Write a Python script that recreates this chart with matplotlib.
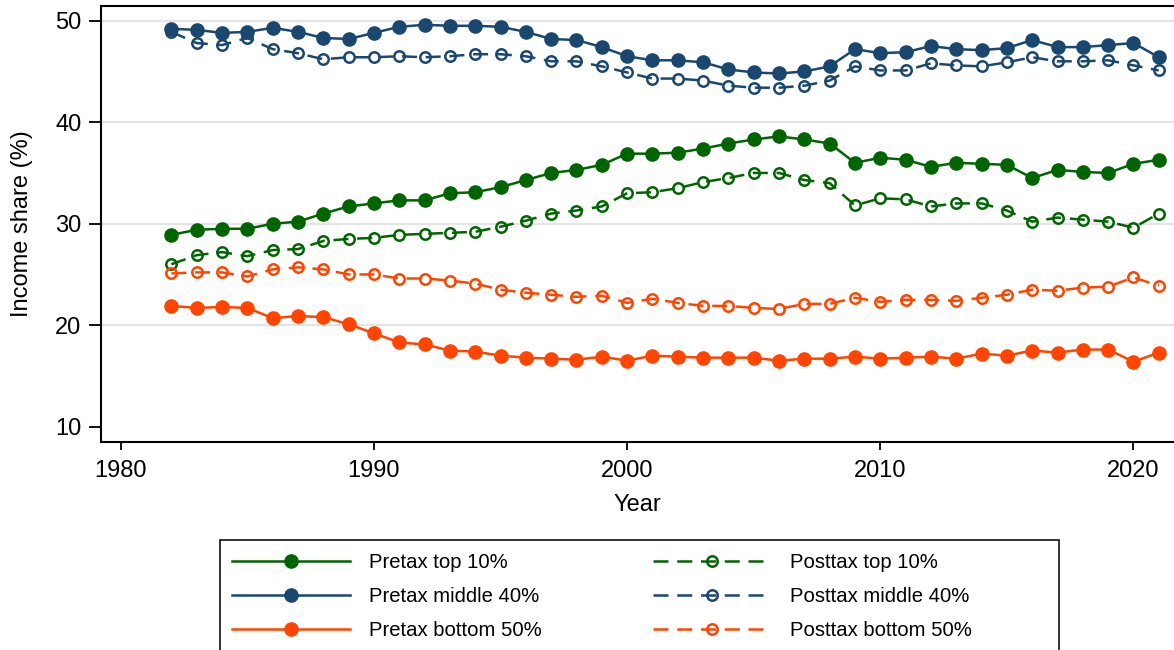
import numpy as np
import matplotlib
matplotlib.use("Agg")
import matplotlib.pyplot as plt
from matplotlib.patches import Rectangle

plt.rcParams['font.family'] = ['Liberation Sans', 'DejaVu Sans']

years = np.arange(1982, 2022)

# values
pretax_top10 = [28.9, 29.4, 29.5, 29.5, 30.0, 30.2, 31.0, 31.7, 32.0, 32.3,
                32.3, 33.0, 33.1, 33.6, 34.3, 35.0, 35.3, 35.8, 36.9, 36.9,
                37.0, 37.4, 37.9, 38.3, 38.6, 38.3, 37.9, 36.0, 36.5, 36.3,
                35.6, 36.0, 35.9, 35.8, 34.5, 35.3, 35.1, 35.0, 35.9, 36.3]
posttax_top10 = [26.0, 26.9, 27.2, 26.8, 27.4, 27.5, 28.3, 28.5, 28.6, 28.9,
                 29.0, 29.1, 29.2, 29.7, 30.3, 31.0, 31.3, 31.7, 33.0, 33.1,
                 33.5, 34.1, 34.5, 35.0, 35.0, 34.3, 34.0, 31.8, 32.5, 32.4,
                 31.7, 32.0, 32.0, 31.3, 30.2, 30.6, 30.4, 30.2, 29.6, 31.0]
pretax_mid40 = [49.2, 49.1, 48.8, 48.9, 49.3, 48.9, 48.3, 48.2, 48.8, 49.4,
                49.6, 49.5, 49.5, 49.4, 48.9, 48.2, 48.1, 47.4, 46.5, 46.1,
                46.1, 45.9, 45.2, 44.9, 44.8, 45.0, 45.5, 47.2, 46.8, 46.9,
                47.5, 47.2, 47.1, 47.3, 48.1, 47.4, 47.4, 47.6, 47.8, 46.4]
posttax_mid40 = [48.9, 47.8, 47.6, 48.3, 47.2, 46.8, 46.2, 46.4, 46.4, 46.5,
                 46.4, 46.5, 46.7, 46.7, 46.5, 46.0, 46.0, 45.5, 44.9, 44.3,
                 44.3, 44.1, 43.6, 43.4, 43.4, 43.6, 44.1, 45.5, 45.1, 45.1,
                 45.8, 45.6, 45.5, 45.9, 46.4, 46.0, 46.0, 46.1, 45.6, 45.1]
pretax_bot50 = [21.9, 21.7, 21.8, 21.7, 20.7, 20.9, 20.8, 20.1, 19.2, 18.3,
                18.1, 17.5, 17.4, 17.0, 16.8, 16.7, 16.6, 16.9, 16.5, 17.0,
                16.9, 16.8, 16.8, 16.8, 16.5, 16.7, 16.7, 16.9, 16.7, 16.8,
                16.9, 16.7, 17.2, 17.0, 17.5, 17.3, 17.6, 17.6, 16.4, 17.3]
posttax_bot50 = [25.1, 25.2, 25.2, 24.8, 25.5, 25.7, 25.5, 25.0, 25.0, 24.6,
                 24.6, 24.4, 24.1, 23.5, 23.2, 23.0, 22.8, 22.9, 22.2, 22.6,
                 22.2, 21.9, 21.9, 21.7, 21.6, 22.1, 22.1, 22.7, 22.3, 22.5,
                 22.5, 22.4, 22.7, 23.0, 23.5, 23.4, 23.7, 23.8, 24.7, 23.9]

green = '#006400'
blue = '#1a476f'
orange = '#ff4500'
dash = (0, (6, 3.5))

fig = plt.figure(figsize=(11.74, 6.5), dpi=100)
ax = fig.add_axes([101/1174, 1 - 441.7/650, 1 - 101/1174, (441.7 - 6)/650])

series = [
    (pretax_top10, green, '-', True, 'Pretax top 10%'),
    (pretax_mid40, blue, '-', True, 'Pretax middle 40%'),
    (pretax_bot50, orange, '-', True, 'Pretax bottom 50%'),
    (posttax_top10, green, dash, False, 'Posttax top 10%'),
    (posttax_mid40, blue, dash, False, 'Posttax middle 40%'),
    (posttax_bot50, orange, dash, False, 'Posttax bottom 50%'),
]

handles = []
for vals, col, ls, filled, lab in series:
    if filled:
        kw = dict(marker='o', markersize=9.5, markerfacecolor=col,
                  markeredgecolor=col)
    else:
        kw = dict(marker='o', markersize=7.5, markerfacecolor='none',
                  markeredgecolor=col, markeredgewidth=1.8)
    line, = ax.plot(years, vals, color=col, linestyle=ls, linewidth=1.8,
                    label=lab, **kw)
    handles.append(line)

ax.set_xlim(1979.22, 2021.6)
ax.set_ylim(8.52, 51.45)
ax.set_xticks([1980, 1990, 2000, 2010, 2020])
ax.set_yticks([10, 20, 30, 40, 50])
for yv in [20, 30, 40, 50]:
    ax.axhline(yv, color='#e4e4e4', linewidth=1.6, zorder=0)

ax.spines['right'].set_visible(False)
for s in ['left', 'bottom', 'top']:
    ax.spines[s].set_linewidth(1.5)
ax.tick_params(axis='y', length=9, width=1.3, labelsize=17, pad=5)
ax.tick_params(axis='x', length=6, width=1.3, labelsize=17, pad=7)
ax.set_xlabel('Year', fontsize=17, labelpad=9)
ax.set_ylabel('Income share (%)', fontsize=17, labelpad=16)

# legend box drawn separately so it can be wider than the entries
fig.patches.append(Rectangle((220/1174, -0.05), (1059 - 220)/1174,
                             0.05 + 1 - 540/650, transform=fig.transFigure,
                             fill=False, edgecolor='#222222', linewidth=1.3))
fig.legend(handles=handles, loc='upper left',
           bbox_to_anchor=(215/1174, 1 - 536/650),
           ncol=2, fontsize=14.6, frameon=False,
           handlelength=5.8, handletextpad=0.95,
           columnspacing=5.5, borderpad=0.85, labelspacing=0.74,
           numpoints=1, borderaxespad=0)

fig.savefig('out.png', dpi=100)
